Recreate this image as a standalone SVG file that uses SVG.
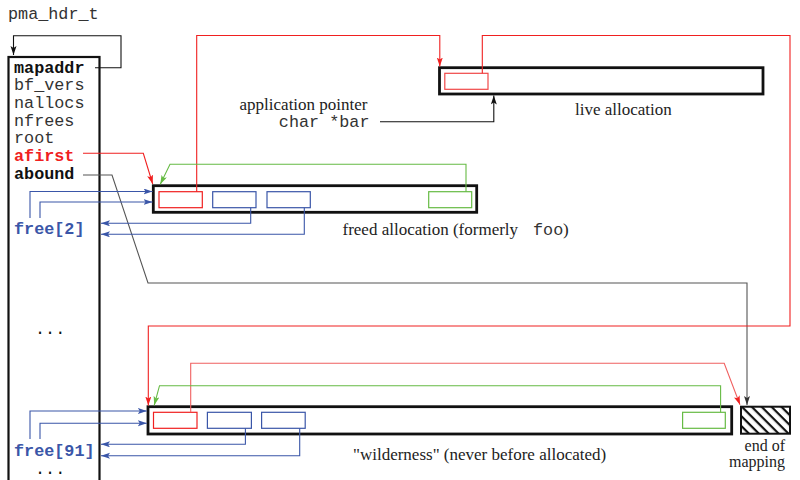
<svg xmlns="http://www.w3.org/2000/svg" width="800" height="480" viewBox="0 0 800 480">
<style>
.mono{font-family:"Liberation Mono","DejaVu Sans Mono",monospace;font-size:16.8px;fill:#333}
.b{font-weight:bold}
.serif{font-family:"Liberation Serif","DejaVu Serif",serif;font-size:17px;fill:#222}
.small{font-size:16px}
.alloc{fill:none;stroke:#111;stroke-width:2.8}
.ib{fill:none;stroke-width:1.2}
.c{fill:none;stroke-width:1.1}
.red{stroke:#f02020}
.blue{stroke:#3a56a8}
.green{stroke:#66bb44}
</style>
<defs>
<marker id="aK" markerUnits="userSpaceOnUse" markerWidth="10" markerHeight="7" refX="9" refY="3" orient="auto"><path d="M0,0 L9,3 L0,6 L2,3 z" fill="#111"/></marker>
<marker id="aG" markerUnits="userSpaceOnUse" markerWidth="10" markerHeight="7" refX="9" refY="3" orient="auto"><path d="M0,0 L9,3 L0,6 L2,3 z" fill="#333"/></marker>
<marker id="aR" markerUnits="userSpaceOnUse" markerWidth="10" markerHeight="7" refX="9" refY="3" orient="auto"><path d="M0,0 L9,3 L0,6 L2,3 z" fill="#f02020"/></marker>
<marker id="aB" markerUnits="userSpaceOnUse" markerWidth="10" markerHeight="7" refX="9" refY="3" orient="auto"><path d="M0,0 L9,3 L0,6 L2,3 z" fill="#3a56a8"/></marker>
<marker id="aGr" markerUnits="userSpaceOnUse" markerWidth="10" markerHeight="7" refX="9" refY="3" orient="auto"><path d="M0,0 L9,3 L0,6 L2,3 z" fill="#66bb44"/></marker>
<pattern id="hatch" patternUnits="userSpaceOnUse" width="7" height="7" patternTransform="rotate(45)"><rect width="7" height="2.2" fill="#111"/></pattern>
</defs>
<rect width="800" height="480" fill="#fff"/>

<g id="header">
<text class="mono" x="8" y="18.5">pma_hdr_t</text>
<rect x="8.5" y="57" width="91" height="440" fill="none" stroke="#111" stroke-width="2.2"/>
<text class="mono b" x="14" y="72.5" style="fill:#111">mapaddr</text>
<text class="mono" x="14" y="90">bf_vers</text>
<text class="mono" x="14" y="108">nallocs</text>
<text class="mono" x="14" y="125.5">nfrees</text>
<text class="mono" x="14" y="143">root</text>
<text class="mono b" x="14" y="160.5" style="fill:#f02020">afirst</text>
<text class="mono b" x="14" y="178.5" style="fill:#111">abound</text>
<text class="mono b" x="14" y="233.5" style="fill:#3a56a8">free[2]</text>
<text class="mono" x="35" y="334" style="fill:#111">...</text>
<text class="mono b" x="14" y="456" style="fill:#3a56a8">free[91]</text>
<text class="mono" x="35" y="474" style="fill:#111">...</text>
</g>

<g id="live-allocation">
<rect class="alloc" x="439.5" y="67.7" width="323.5" height="26.3"/>
<rect class="ib" x="444.8" y="73.3" width="43.2" height="16" stroke="#f04848"/>
<text class="serif" x="575" y="115">live allocation</text>
</g>

<g id="app-pointer">
<text class="serif" x="367.5" y="110" text-anchor="end">application pointer</text>
<text class="mono" x="369.5" y="126.5" text-anchor="end">char *bar</text>
</g>

<g id="freed-allocation">
<rect class="alloc" x="153.3" y="185.7" width="323.4" height="26.6"/>
<rect class="ib red" x="159" y="191.7" width="43.3" height="16"/>
<rect class="ib blue" x="212.7" y="191.7" width="43.3" height="16"/>
<rect class="ib blue" x="267" y="191.7" width="43.3" height="16"/>
<rect class="ib green" x="428.7" y="191.7" width="43" height="16"/>
<text class="serif" x="342.5" y="235">freed allocation (formerly</text>
<text class="mono" x="533" y="235">foo</text>
<text class="serif" x="563" y="235">)</text>
</g>

<g id="wilderness">
<rect class="alloc" x="148" y="406.7" width="583.7" height="27.3"/>
<rect class="ib red" x="153.5" y="412.3" width="43.5" height="16"/>
<rect class="ib blue" x="207.4" y="412.3" width="44" height="16"/>
<rect class="ib blue" x="261.6" y="412.3" width="43.6" height="16"/>
<rect class="ib green" x="682.6" y="412.3" width="42.7" height="16"/>
<text class="serif" x="353" y="460">"wilderness" (never before allocated)</text>
</g>

<g id="end-of-mapping">
<rect x="741" y="406.7" width="49" height="27" fill="url(#hatch)" stroke="#111" stroke-width="2"/>
<text class="serif small" x="785" y="450.5" text-anchor="end">end of</text>
<text class="serif small" x="785" y="467" text-anchor="end">mapping</text>
</g>

<g id="connectors">
<path class="c" stroke="#111" d="M95,67.7 H121 V35.7 H13.5 V55" marker-end="url(#aK)"/>
<path class="c red" d="M83,153.3 H143.3 L152.7,184" marker-end="url(#aR)"/>
<path class="c" stroke="#555" d="M83,175 H112 L148,283 H747 V405" marker-end="url(#aG)"/>
<path class="c red" d="M196.7,191.7 V35.5 H439.8 V66.5" marker-end="url(#aR)"/>
<path class="c red" d="M482.3,73.3 V35.5 H790 V326 H148.3 V405.5" marker-end="url(#aR)"/>
<path class="c" stroke="#111" d="M380,121.7 H493.8 V95.5" marker-end="url(#aK)"/>
<path class="c green" d="M466,191.7 V164.3 H170 L160.3,184.3" marker-end="url(#aGr)"/>
<path class="c blue" d="M30,218 V191.5 H152.5" marker-end="url(#aB)"/>
<path class="c blue" d="M40,218 V202 H152.5" marker-end="url(#aB)"/>
<path class="c blue" d="M250.7,207.7 V223.3 H101" marker-end="url(#aB)"/>
<path class="c blue" d="M304.3,207.7 V234.3 H101" marker-end="url(#aB)"/>
<path class="c blue" d="M30,439 V411 H146.8" marker-end="url(#aB)"/>
<path class="c blue" d="M40,439 V423.3 H146.8" marker-end="url(#aB)"/>
<path class="c blue" d="M245.4,428.3 V444.3 H101" marker-end="url(#aB)"/>
<path class="c blue" d="M299.7,428.3 V455.7 H101" marker-end="url(#aB)"/>
<path class="c" stroke="#f06060" d="M190.7,412.3 V363.3 H724.2 L740,404.8" marker-end="url(#aR)"/>
<path class="c green" d="M720.6,412.3 V385.7 H159.5 L154.2,405.3" marker-end="url(#aGr)"/>
</g>
</svg>
